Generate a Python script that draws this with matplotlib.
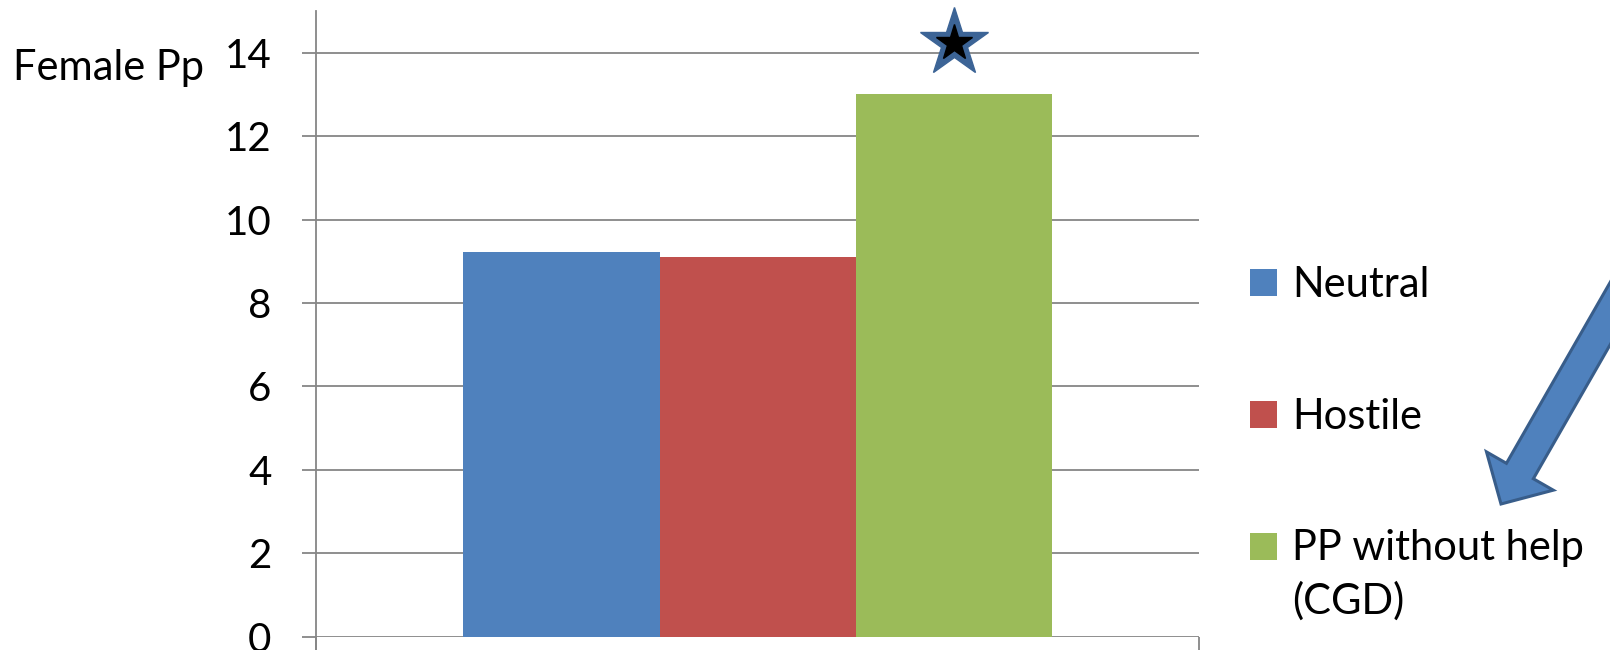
import matplotlib
matplotlib.use("Agg")
import matplotlib.pyplot as plt
from matplotlib.patches import FancyArrow, Rectangle
from matplotlib.transforms import IdentityTransform

groups = ['Neutral', 'Hostile', 'PP without help\n(CGD)']
values = [9.22, 9.1, 13.0]
colors = ['#4F81BD', '#C0504D', '#9BBB59']
yticks = [0, 2, 4, 6, 8, 10, 12, 14]
star_y = 14.23

plt.rcParams['font.family'] = ['Lato', 'DejaVu Sans']

fig = plt.figure(figsize=(16.1, 6.5), dpi=100)
ax = fig.add_axes([0.1963, 0.0206, 0.5484, 0.9625])
px = IdentityTransform()

w = 0.222
offsets = [-w, 0, w]
for i in range(len(groups)):
    ax.bar(offsets[i], values[i], width=w, color=colors[i], label=groups[i], zorder=2)

# significance star over the green bar
ax.plot(offsets[2], star_y, marker='*', markersize=52, color='#3C6496',
        markeredgecolor='#3C6496', zorder=5, clip_on=False)
ax.plot(offsets[2], star_y, marker='*', markersize=27, color='black', zorder=6, clip_on=False)

ax.set_xlim(-0.5, 0.5)
ax.set_ylim(0, 15)
ax.set_yticks(yticks)
ax.yaxis.grid(True, color='#868686', linewidth=1.3, zorder=0)
ax.set_axisbelow(True)
for s in ['top', 'right', 'bottom']:
    ax.spines[s].set_visible(False)
ax.spines['left'].set_color('#868686')
ax.spines['left'].set_linewidth(1.3)
ax.spines['left'].set_bounds(-0.35, 15)
ax.tick_params(axis='y', length=10, width=1.3, color='#868686', labelsize=29, pad=22)
ax.set_xticks([-0.5, 0.5])
ax.set_xticklabels([])
ax.tick_params(axis='x', length=10, width=1.3, color='#868686')

fig.text(13, 650 - 80, 'Female Pp', fontsize=30, transform=px, va='baseline')

# legend drawn by hand so the square sits on the first line of a two-line label
box_top = [269, 401, 533]
line_gap = 53
for i in range(len(groups)):
    fig.patches.append(Rectangle((1250, 650 - box_top[i] - 27), 27, 27, facecolor=colors[i],
                                 edgecolor='none', transform=px))
    n_lines = groups[i].count('\n') + 1
    last_baseline = box_top[i] + 28 + line_gap * (n_lines - 1)
    fig.text(1292, 650 - last_baseline, groups[i], fontsize=30, transform=px,
             va='baseline', linespacing=1.44)

arrow = FancyArrow(1650, 406, 1501 - 1650, 146 - 406, width=31, head_width=77,
                   head_length=38, length_includes_head=True,
                   facecolor='#4F81BD', edgecolor='#385D8A', linewidth=2.2,
                   transform=px)
fig.patches.append(arrow)

fig.savefig('out.png', dpi=100)
